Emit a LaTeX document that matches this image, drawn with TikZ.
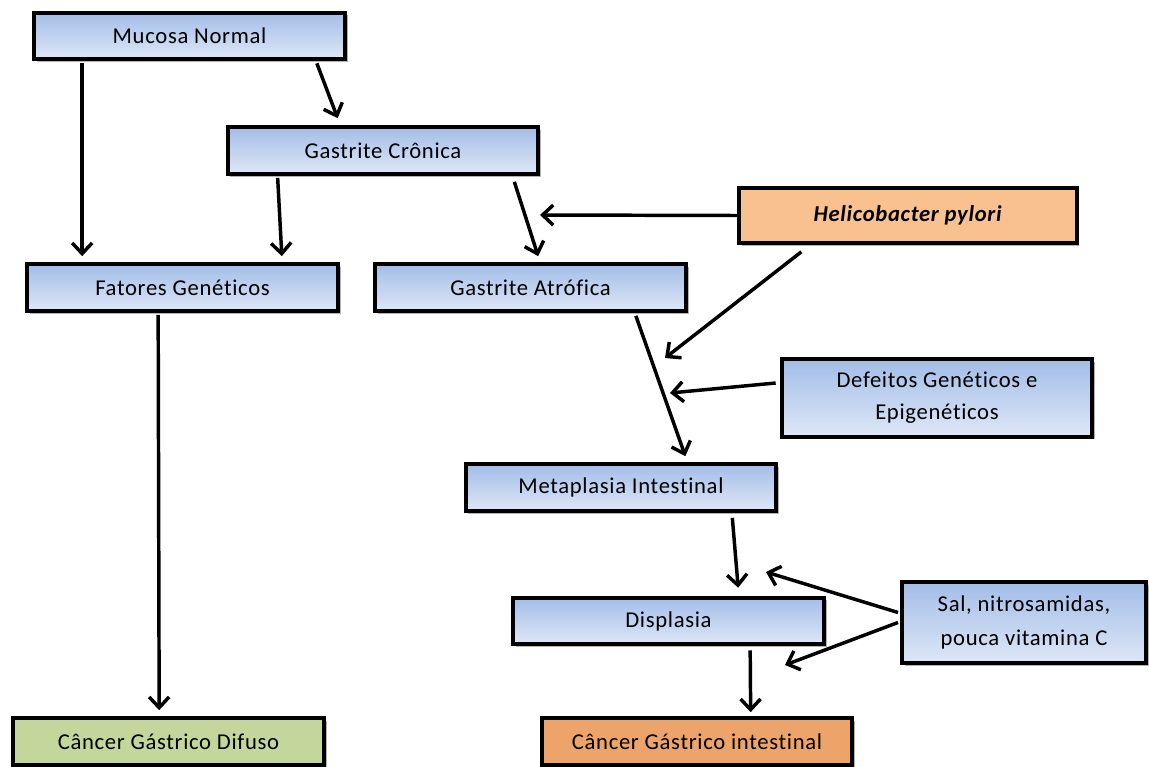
\documentclass[tikz,border=0pt]{standalone}
\usepackage{fontspec}
\setmainfont{Carlito}[Ligatures=NoCommon,LetterSpace=3]
\usepackage{tikz}
\usetikzlibrary{arrows.meta,shadows,calc}
\definecolor{boxtop}{RGB}{163,189,232}
\definecolor{boxbot}{RGB}{222,231,246}
\definecolor{hpylori}{RGB}{249,192,144}
\definecolor{intest}{RGB}{236,164,106}
\definecolor{difuso}{RGB}{195,214,155}

\begin{document}
\begin{tikzpicture}[x=0.75pt,y=-0.75pt,
    box/.style={draw,line width=3pt,inner sep=0pt,minimum width=233pt,minimum height=35pt,
      align=center,font=\fontsize{17}{24}\selectfont,
      drop shadow={shadow xshift=2pt,shadow yshift=-2pt,opacity=0.3,fill=black}},
    bluebox/.style={box,top color=boxtop,bottom color=boxbot},
    arr/.style={line width=2.6pt,-{Straight Barb[length=8pt,width=15pt,line width=2.6pt]}}]
  \useasboundingbox (0,0) rectangle (1149,767);

  \node[bluebox] (mucosa) at (189.5,36) {Mucosa Normal};
  \node[bluebox] (cronica) at (383,150.5) {Gastrite Crônica};
  \node[box,fill=hpylori,minimum width=253pt,minimum height=41pt] (hp) at (908,215.5) {\textbf{\textit{Helicobacter pylori}}};
  \node[bluebox] (fatores) at (182.5,287.5) {Fatores Genéticos};
  \node[bluebox] (atrofica) at (530.5,287.5) {Gastrite Atrófica};
  \node[bluebox,minimum height=58pt] (defeitos) at (937,398) {Defeitos Genéticos e\\Epigenéticos};
  \node[bluebox] (metaplasia) at (621,487.5) {Metaplasia Intestinal};
  \node[bluebox] (displasia) at (668.5,621) {Displasia};
  \node[bluebox,minimum width=183pt,minimum height=61pt,font=\fontsize{17}{26}\selectfont] (sal) at (1024,622.5) {Sal, nitrosamidas,\\pouca vitamina C};
  \node[box,fill=difuso] (difuso) at (168.5,741.5) {Câncer Gástrico Difuso};
  \node[box,fill=intest] (intestinal) at (697,741.5) {Câncer Gástrico intestinal};

  \coordinate (h1) at (540,215);
  \coordinate (h2) at (665,358);
  \coordinate (d1) at (670,393);
  \coordinate (s1) at (766,572);
  \coordinate (s2) at (785,665);

  \draw[arr] ($(mucosa.south west)+(50,2)$) -- ($(fatores.north west)+(57,-6)$);
  \draw[arr] ($(mucosa.south east)+(-30,2)$) -- ($(cronica.north west)+(112,-7)$);
  \draw[arr] ($(cronica.south west)+(52,2)$) -- ($(fatores.north east)+(-58,-6)$);
  \draw[arr] ($(cronica.south east)+(-26,6)$) -- ($(atrofica.north west)+(165,-6)$);
  \draw[arr] (hp.west) -- (h1);
  \draw[arr] ($(hp.south west)+(64,7)$) -- (h2);
  \draw[arr] ($(atrofica.south east)+(-52,3)$) -- ($(metaplasia.north east)+(-93,-6)$);
  \draw[arr] ($(defeitos.west)+(-4,-15)$) -- (d1);
  \draw[arr] ($(metaplasia.south east)+(-46,5)$) -- ($(displasia.north west)+(227,-8)$);
  \draw[arr] ($(sal.west)+(-2,-10)$) -- (s1);
  \draw[arr] ($(sal.west)+(-2,0)$) -- (s2);
  \draw[arr] ($(fatores.south west)+(133,2)$) -- ($(difuso.north west)+(148,-6)$);
  \draw[arr] ($(displasia.south west)+(239,4)$) -- ($(intestinal.north west)+(211,-4)$);
\end{tikzpicture}
\end{document}
